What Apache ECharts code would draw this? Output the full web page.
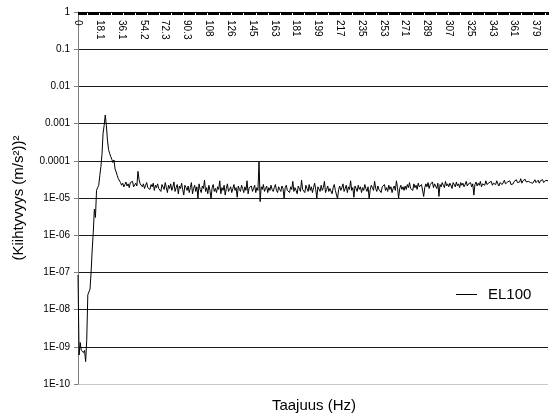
<!DOCTYPE html>
<html>
<head>
<meta charset="utf-8">
<script src="https://cdn.jsdelivr.net/npm/echarts@6/dist/echarts.min.js"></script>
<style>html,body{margin:0;padding:0;background:#fff}#c{width:549px;height:417px}</style>
</head>
<body>
<div id="c"></div>
<script>
// Frequency step between spectral lines (Hz)
const freqStep = 0.9033;
// Tick labels shown every 20th line on the top axis
const xTickLabels = ['0','18.1','36.1','54.2','72.3','90.3','108','126','145','163','181','199','217','235','253','271','289','307','325','343','361','379'];
const yTickLabels = ['1E-10','1E-09','1E-08','1E-07','1E-06','1E-05','0.0001','0.001','0.01','0.1','1'];
// EL100 spectrum values ((m/s^2))^2, one per spectral line
const el100 = [
 8.5e-8,6e-10,1.3e-9,8e-10,9e-10,7e-10,8e-10,4e-10,1.5e-9,2.5e-8,3e-8,3.5e-8,1e-7,4e-7,1.2e-6,5e-6,3e-6,1.6e-5,1.9e-5,2.2e-5,
 4e-5,7e-5,1.5e-4,5.5e-4,9e-4,1.7e-3,9e-4,3.6e-4,2e-4,1.6e-4,1.3e-4,1.1e-4,9e-5,1.05e-4,6e-5,5e-5,4e-5,3.3e-5,3.1e-5,
 2.6e-5,2.2e-5,2.5e-5,2.0e-5,2.3e-5,2.7e-5,2.1e-5,2.4e-5,1.9e-5,2.6e-5,2.3e-5,2.8e-5,2.0e-5,2.2e-5,2.5e-5,2.1e-5,5.2e-5,3.1e-5,2.4e-5,2.7e-5,2.0e-5,
 2.4e-5,1.8e-5,2.2e-5,2.6e-5,1.9e-5,2.1e-5,1.7e-5,2.3e-5,2.0e-5,2.5e-5,
 1.6e-5,2.2e-5,1.9e-5,2.4e-5,1.8e-5,2.0e-5,1.5e-5,2.3e-5,2.1e-5,1.7e-5,
 2.6e-5,1.9e-5,1.4e-5,2.2e-5,1.8e-5,2.4e-5,1.6e-5,2.0e-5,2.7e-5,1.5e-5,
 1.9e-5,2.3e-5,1.3e-5,2.1e-5,1.8e-5,2.5e-5,1.7e-5,1.2e-5,2.2e-5,1.9e-5,
 1.6e-5,2.1e-5,1.4e-5,1.9e-5,2.6e-5,1.3e-5,1.8e-5,2.2e-5,1.5e-5,2.0e-5,1.0e-5,2.4e-5,1.7e-5,1.4e-5,2.1e-5,1.8e-5,3.0e-5,1.5e-5,1.9e-5,1.3e-5,
 2.2e-5,1.6e-5,9.5e-6,1.9e-5,2.3e-5,1.5e-5,1.8e-5,1.4e-5,2.0e-5,1.7e-5,2.9e-5,1.3e-5,1.9e-5,1.6e-5,2.2e-5,1.2e-5,1.8e-5,2.4e-5,1.5e-5,1.7e-5,
 2.0e-5,1.4e-5,1.8e-5,2.3e-5,1.6e-5,1.9e-5,1.05e-5,2.1e-5,1.7e-5,1.5e-5,2.2e-5,1.8e-5,1.4e-5,2.0e-5,1.6e-5,2.9e-5,1.3e-5,1.9e-5,1.7e-5,2.1e-5,
 1.5e-5,1.8e-5,2.2e-5,1.4e-5,1.9e-5,1.6e-5,9.5e-5,8e-6,2.0e-5,1.7e-5,2.3e-5,1.5e-5,1.8e-5,2.1e-5,1.4e-5,1.9e-5,1.6e-5,2.2e-5,1.7e-5,1.5e-5,
 1.9e-5,2.3e-5,1.6e-5,1.4e-5,2.0e-5,1.7e-5,1.5e-5,2.1e-5,1.8e-5,1.0e-5,1.9e-5,2.2e-5,1.6e-5,1.8e-5,1.4e-5,2.0e-5,1.7e-5,2.8e-5,1.5e-5,1.9e-5,
 1.6e-5,1.3e-5,2.1e-5,1.8e-5,1.5e-5,3.0e-5,1.7e-5,1.9e-5,1.4e-5,2.2e-5,1.8e-5,1.5e-5,2.3e-5,1.6e-5,2.0e-5,1.4e-5,1.9e-5,2.5e-5,1.7e-5,1.0e-5,
 2.0e-5,1.8e-5,1.5e-5,2.2e-5,1.6e-5,1.9e-5,2.8e-5,1.4e-5,1.7e-5,2.1e-5,1.5e-5,1.8e-5,2.0e-5,1.3e-5,1.9e-5,2.3e-5,1.6e-5,1.8e-5,9.5e-6,1.7e-5,
 2.1e-5,1.6e-5,1.9e-5,2.4e-5,1.5e-5,1.8e-5,2.2e-5,1.4e-5,2.0e-5,1.7e-5,2.9e-5,1.6e-5,1.9e-5,1.05e-5,2.1e-5,1.8e-5,1.5e-5,2.2e-5,1.7e-5,2.0e-5,
 1.4e-5,1.9e-5,1.6e-5,2.3e-5,1.8e-5,1.5e-5,2.0e-5,9.5e-6,1.7e-5,2.2e-5,1.9e-5,1.6e-5,2.8e-5,1.8e-5,1.5e-5,2.1e-5,1.7e-5,1.9e-5,1.4e-5,2.0e-5,
 1.8e-5,2.3e-5,1.6e-5,1.9e-5,1.5e-5,2.2e-5,1.7e-5,2.0e-5,1.4e-5,1.8e-5,2.1e-5,1.6e-5,2.9e-5,1.9e-5,1.0e-5,1.8e-5,2.2e-5,1.7e-5,2.0e-5,1.6e-5,
 2.1e-5,1.7e-5,2.3e-5,1.9e-5,2.6e-5,1.8e-5,2.0e-5,1.6e-5,2.4e-5,1.9e-5,2.2e-5,1.7e-5,2.5e-5,2.0e-5,1.8e-5,2.3e-5,2.1e-5,1.1e-5,1.9e-5,2.4e-5,
 2.0e-5,2.6e-5,1.8e-5,2.3e-5,2.1e-5,2.7e-5,1.9e-5,2.4e-5,2.2e-5,1.8e-5,2.5e-5,1.1e-5,2.3e-5,2.0e-5,2.6e-5,2.2e-5,1.9e-5,2.8e-5,2.1e-5,2.4e-5,
 2.0e-5,2.5e-5,2.2e-5,1.8e-5,2.6e-5,2.3e-5,2.0e-5,2.7e-5,2.1e-5,2.4e-5,1.9e-5,2.6e-5,2.2e-5,2.5e-5,2.0e-5,2.3e-5,2.8e-5,2.1e-5,2.4e-5,2.2e-5,
 2.6e-5,2.0e-5,2.4e-5,1.2e-5,2.3e-5,2.7e-5,2.1e-5,2.5e-5,2.2e-5,2.8e-5,2.0e-5,2.4e-5,2.6e-5,2.2e-5,2.9e-5,2.3e-5,2.1e-5,2.6e-5,2.4e-5,2.8e-5,
 2.2e-5,2.5e-5,2.7e-5,2.3e-5,2.9e-5,2.4e-5,2.1e-5,2.6e-5,2.8e-5,2.3e-5,2.5e-5,3.0e-5,2.4e-5,2.2e-5,2.7e-5,2.5e-5,2.9e-5,2.3e-5,2.6e-5,2.4e-5,
 2.8e-5,2.5e-5,3.1e-5,2.6e-5,2.3e-5,2.7e-5,3.3e-5,2.5e-5,2.9e-5,2.6e-5,3.2e-5,2.7e-5,2.4e-5,2.8e-5,3.0e-5,2.6e-5,2.9e-5,2.5e-5,2.7e-5,3.1e-5,
 2.6e-5,2.8e-5,3.0e-5,2.5e-5,2.9e-5,2.7e-5,3.1e-5,2.6e-5,2.8e-5,3.0e-5,2.7e-5,2.9e-5
];
const categories = el100.map((_, i) => (i * freqStep).toFixed(2));
const FONT = 'Liberation Sans, Arial, sans-serif';

const chart = echarts.init(document.getElementById('c'), null, {renderer: 'canvas'});
const gridColors = ['#c8c8c8'].concat(Array(10).fill('#1a1a1a'));
chart.setOption({
  animation: false,
  backgroundColor: '#fff',
  grid: {left: 78, right: 1, top: 12, bottom: 33},
  legend: {
    data: ['EL100'], left: 456, top: 287, icon: 'rect', itemWidth: 21, itemHeight: 1,
    padding: 0, textStyle: {fontSize: 15, color: '#000', fontFamily: FONT, padding: [0,0,0,6]}
  },
  xAxis: {
    type: 'category', position: 'top', data: categories, boundaryGap: false,
    axisLine: {onZero: false, lineStyle: {color: '#000', width: 1}},
    axisTick: {inside: true, length: 3, interval: 0, lineStyle: {color: '#000'}},
    axisLabel: {
      inside: true, rotate: 90, interval: 19, fontSize: 10, color: '#000', fontFamily: FONT, margin: 8,
      formatter: (v, i) => (i % 20 === 0 && xTickLabels[i / 20] !== undefined) ? xTickLabels[i / 20] : ''
    },
    splitLine: {show: false}
  },
  yAxis: {
    type: 'log', logBase: 10, min: 1e-10, max: 1, interval: 1,
    name: '(Kiihtyvyys (m/s²))²', nameLocation: 'middle', nameGap: 52, nameRotate: 90,
    nameTextStyle: {fontSize: 15, color: '#000', fontFamily: FONT},
    axisLine: {show: true, lineStyle: {color: '#808080'}},
    axisTick: {show: true, length: 4, lineStyle: {color: '#808080'}},
    axisLabel: {
      fontSize: 10, color: '#000', fontFamily: FONT, margin: 8,
      formatter: v => { const k = Math.round(Math.log10(v)) + 10; return yTickLabels[k] || ''; }
    },
    splitLine: {show: true, lineStyle: {color: gridColors, width: 1}}
  },
  graphic: [{
    type: 'text', x: 314, y: 406,
    style: {text: 'Taajuus (Hz)', fontSize: 15, fontFamily: FONT, fill: '#000', textAlign: 'center', textVerticalAlign: 'middle'}
  }],
  series: [{
    name: 'EL100', type: 'line', data: el100, showSymbol: false, symbol: 'none',
    lineStyle: {color: '#000', width: 1}, itemStyle: {color: '#000'}
  }]
});
</script>
</body>
</html>
